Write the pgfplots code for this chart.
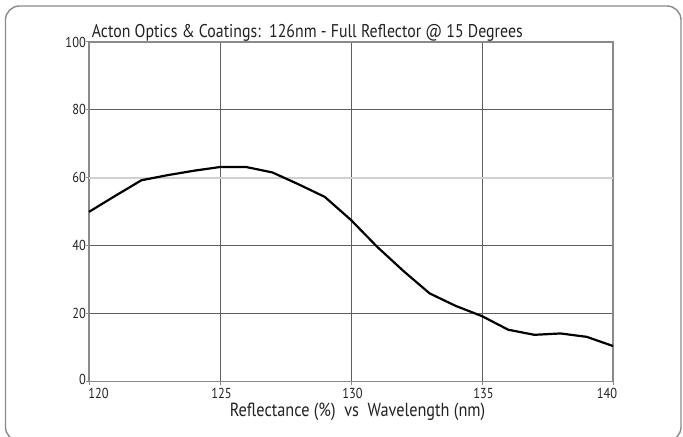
\documentclass[border=0pt]{standalone}
\usepackage{fontspec}
\setmainfont{PT Sans}[FakeStretch=0.86]
\usepackage{pgfplots}
\pgfplotsset{compat=1.18}
\definecolor{framegray}{HTML}{8A8A8A}
\definecolor{gridgray}{HTML}{5E5E5E}
\definecolor{lightgrid}{HTML}{D0D0D0}
\definecolor{txt}{HTML}{222222}

\begin{document}
\begin{tikzpicture}
\path[use as bounding box] (0,0) rectangle (683bp,437bp);
\begin{scope}
  \clip (0,0) rectangle (683bp,437bp);
  \draw[framegray, line width=1.4bp, rounded corners=14bp] (5.5bp,-4bp) rectangle (681bp,431bp);
\end{scope}
\begin{axis}[
  at={(89bp,55.3bp)}, anchor=south west,
  scale only axis, width=524bp, height=339.7bp,
  xmin=120, xmax=140, ymin=0, ymax=100,
  xtick={120,125,130,135,140},
  xticklabels={\makebox[0pt]{\kern19bp 120}, \makebox[0pt]{\kern3bp 125},
    \makebox[0pt]{\kern3bp 130}, \makebox[0pt]{\kern3bp 135},
    \makebox[0pt]{140\kern12bp}},
  ytick={0,20,40,80,100},
  yticklabels={\raisebox{5bp}{0}, 20, 40, 80, 100},
  extra y ticks={60},
  extra y tick style={grid=major, major grid style={lightgrid, line width=2bp}},
  grid=major,
  major grid style={gridgray, line width=1bp},
  axis line style={framegray, line width=1.4bp},
  tick style={framegray, line width=1bp},
  major tick length=3bp, tick align=outside,
  xtick pos=left, ytick pos=left,
  /pgf/number format/assume math mode=true,
  tick label style={font=\fontsize{14.5}{14.5}\selectfont, text=txt, inner sep=0pt},
  x tick label style={yshift=-3bp},
  clip=false,
]
\addplot[black, line width=2.2bp, line join=round] coordinates {
  (120,50.0) (121,54.7) (122,59.3) (123,60.8) (124,62.1) (125,63.2)
  (126,63.2) (127,61.6) (128,58.1) (129,54.4) (130,47.6) (131,39.7)
  (132,32.6) (133,26.0) (134,22.3) (135,19.3) (136,15.3) (137,13.8)
  (138,14.2) (139,13.2) (140,10.5)
};
\node[anchor=base west, text=txt, inner sep=0pt, xshift=2.7bp, yshift=4.3bp,
  font=\fontsize{18.5}{18.5}\selectfont] at (rel axis cs:0,1)
  {Acton Optics \& Coatings:\ \ 126nm - Full Reflector @ 15 Degrees};
\node[anchor=base, text=txt, inner sep=0pt, xshift=6.5bp, yshift=-35bp,
  font=\fontsize{19}{19}\selectfont] at (rel axis cs:0.5,0)
  {Reflectance (\%)\ \ vs\ \ Wavelength (nm)};
\end{axis}
\end{tikzpicture}
\end{document}
